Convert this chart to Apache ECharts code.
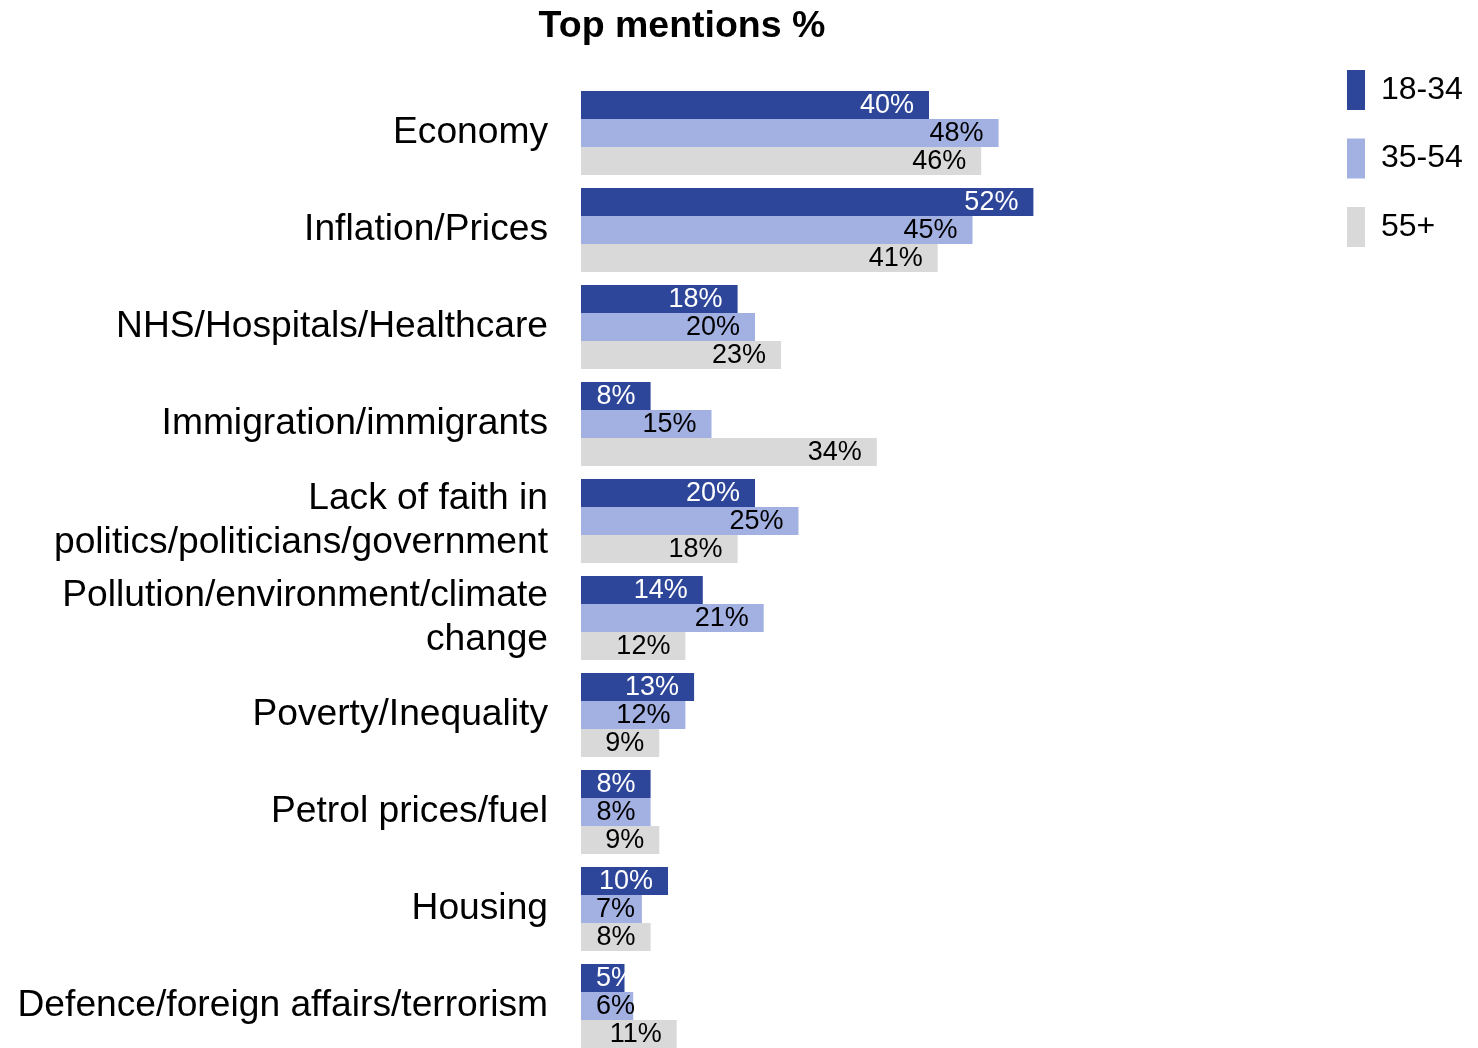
<!DOCTYPE html>
<html><head><meta charset="utf-8">
<script src="https://cdn.jsdelivr.net/npm/echarts@6/dist/echarts.min.js"></script>
<style>html,body{margin:0;padding:0;background:#fff;overflow:hidden}#c{width:1478px;height:1070px}</style>
</head><body><div id="c"></div>
<script>
const categories = ["Economy","Inflation/Prices","NHS/Hospitals/Healthcare","Immigration/immigrants","Lack of faith in\npolitics/politicians/government","Pollution/environment/climate\nchange","Poverty/Inequality","Petrol prices/fuel","Housing","Defence/foreign affairs/terrorism"];
const seriesNames = ["18-34","35-54","55+"];
const v1834 = [40,52,18,8,20,14,13,8,10,5];
const v3554 = [48,45,20,15,25,21,12,8,7,6];
const v55 = [46,41,23,34,18,12,9,9,8,11];
const colors = ["#2E4699","#A2B0E2","#D9D9D9"];
const labelColors = ["#ffffff","#000000","#000000"];
const FONT = "Liberation Sans, Arial, sans-serif";

function mk(name, vals, i){
  return {
    name: name, type: 'bar', barWidth: 28, barGap: '0%',
    itemStyle: {color: colors[i]},
    data: vals.map(v => ({
      value: v,
      label: {position: v < 8 ? 'insideLeft' : 'insideRight'}
    })),
    label: {show: true, distance: 15, formatter: '{c}%', color: labelColors[i], fontSize: 27, fontFamily: FONT, offset: [0, 1]},
    animation: false
  };
}
const chart = echarts.init(document.getElementById('c'));
chart.setOption({
  animation: false,
  title: {text: 'Top mentions %', left: 677, textAlign: 'center', top: 3, textStyle: {fontSize: 37.5, fontWeight: 'bold', color: '#000', fontFamily: FONT}},
  legend: {
    orient: 'vertical', left: 1342, top: 65, itemWidth: 18, itemHeight: 40, itemGap: 28.5,
    icon: 'rect',
    textStyle: {fontSize: 32, color: '#000', fontFamily: FONT, padding: [0,0,0,11]},
    data: seriesNames
  },
  grid: {left: 581, top: 84.5, height: 970, width: 870, containLabel: false},
  xAxis: {type: 'value', min: 0, max: 100, show: false},
  yAxis: {type: 'category', data: categories, inverse: true,
    axisLine: {show: false}, axisTick: {show: false},
    axisLabel: {fontSize: 37.2, color: '#000', fontFamily: FONT, margin: 33, lineHeight: 44, align: 'right'}},
  series: [mk(seriesNames[0], v1834, 0), mk(seriesNames[1], v3554, 1), mk(seriesNames[2], v55, 2)]
});
</script></body></html>
